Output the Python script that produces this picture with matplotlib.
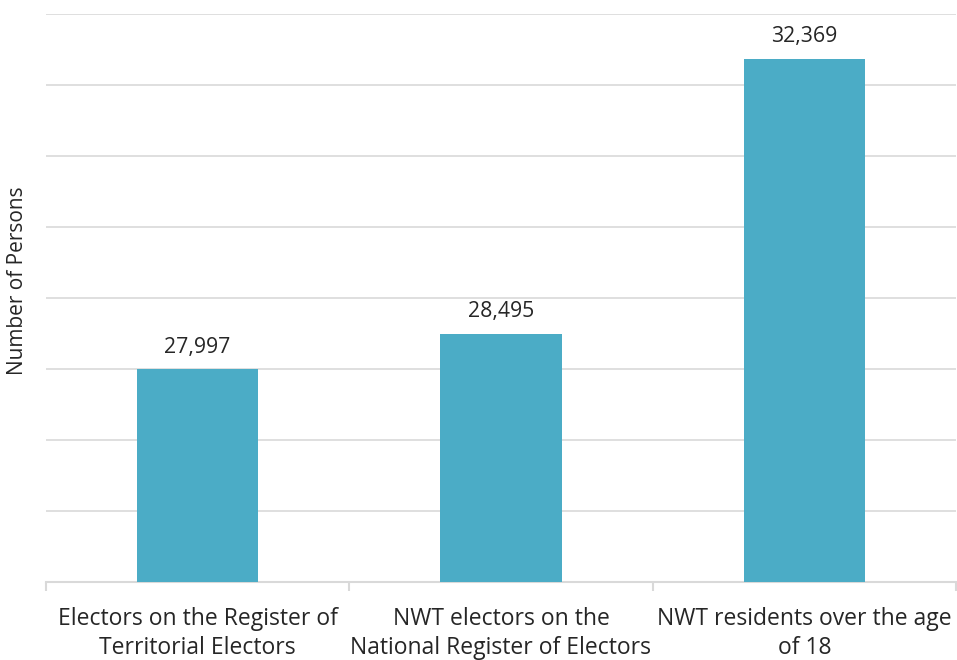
import numpy as np
import matplotlib.pyplot as plt
from matplotlib.ticker import FixedLocator

plt.rcParams['font.family'] = ['Open Sans', 'DejaVu Sans']

categories = ['Electors on the Register of\nTerritorial Electors',
              'NWT electors on the\nNational Register of Electors',
              'NWT residents over the age\nof 18']
values = [27997, 28495, 32369]

fig = plt.figure(figsize=(9.57, 6.60), dpi=100)
ax = fig.add_axes([46 / 957, 78 / 660, 910 / 957, 568 / 660])

x = np.arange(len(categories))
bars = ax.bar(x, values, width=0.4, color='#4BACC6', zorder=3)

ax.set_xlim(-0.5, 2.5)
ax.set_ylim(25000, 33000)
ax.set_yticks(np.arange(25000, 33001, 1000))
ax.yaxis.grid(True, color='#d9d9d9', linewidth=1.2, zorder=0)
ax.tick_params(axis='y', length=0, labelleft=False)

ax.set_xticks(x)
ax.set_xticklabels(categories, fontsize=16.5, color='#262626', linespacing=1.3)
ax.tick_params(axis='x', which='major', length=0, pad=18)
ax.xaxis.set_minor_locator(FixedLocator([-0.5, 0.5, 1.5, 2.5]))
ax.tick_params(axis='x', which='minor', length=6.5, width=1.5, color='#d9d9d9')

for s in ['top', 'right', 'left']:
    ax.spines[s].set_visible(False)
ax.spines['bottom'].set_color('#d9d9d9')
ax.spines['bottom'].set_linewidth(1.5)

for b, v in zip(bars, values):
    ax.text(b.get_x() + b.get_width() / 2, v + 160, '{:,}'.format(v),
            ha='center', va='bottom', fontsize=15.3, color='#262626')

fig.text(18 / 957, 1 - 281 / 660, 'Number of Persons', rotation=90,
         ha='center', va='center', fontsize=15, color='#262626')

fig.savefig('out.png', dpi=100)
